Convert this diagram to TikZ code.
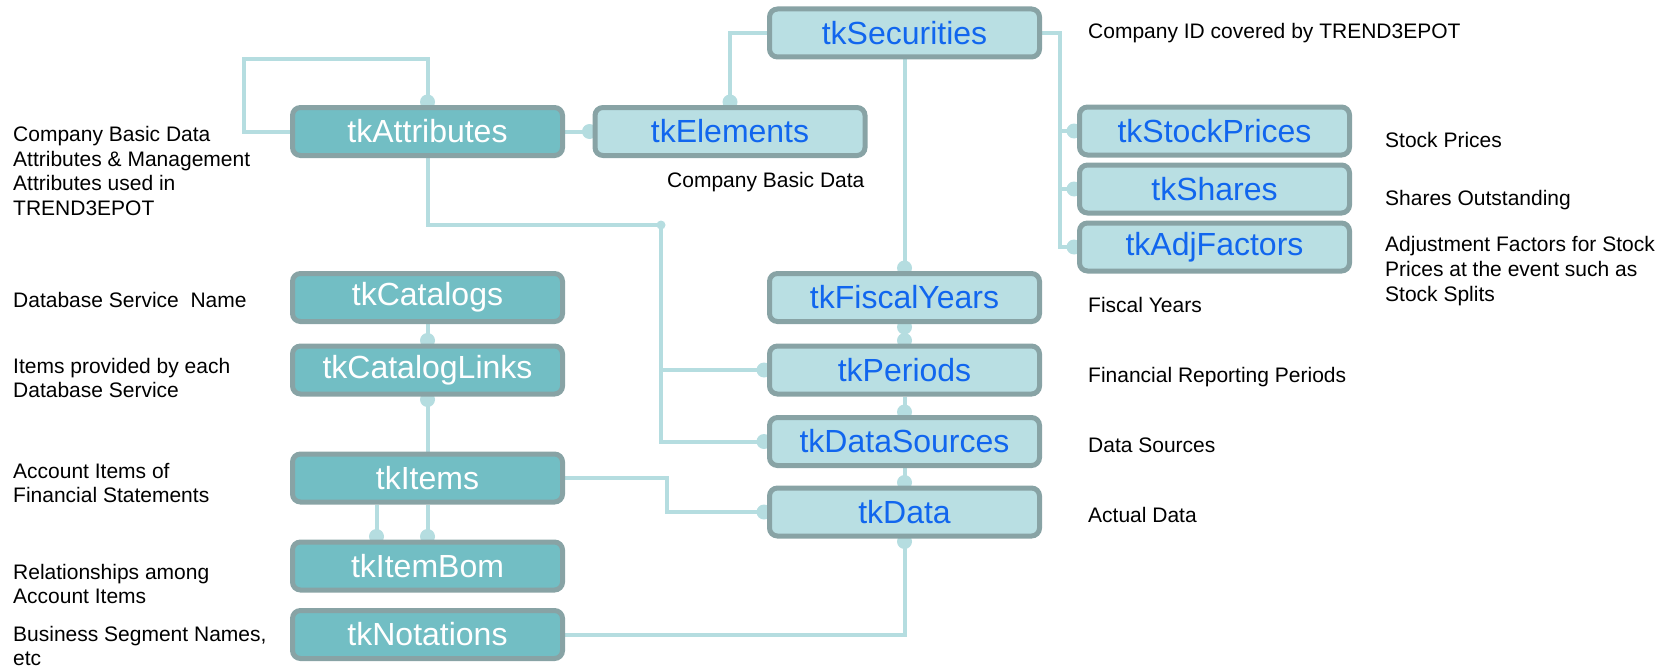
\documentclass[tikz,border=0pt]{standalone}
\usepackage{fontspec}
\setmainfont{Liberation Sans}
\usetikzlibrary{calc}
\definecolor{darkfill}{RGB}{114,190,196}
\definecolor{lightfill}{RGB}{185,223,227}
\definecolor{bordercol}{RGB}{136,163,165}
\definecolor{conncol}{RGB}{181,221,224}
\definecolor{bluetext}{RGB}{17,102,238}
\pgfdeclarelayer{bg}
\pgfsetlayers{bg,main}
\tikzset{
  tbl/.style={rectangle, rounded corners=8pt, draw=bordercol, line width=5pt,
    minimum width=270pt, minimum height=48pt, inner sep=0pt,
    font=\fontsize{32}{38}\selectfont},
  darktbl/.style={tbl, fill=darkfill, text=white},
  lighttbl/.style={tbl, fill=lightfill, text=bluetext},
  note/.style={anchor=west, inner sep=0pt, align=left, text=black,
    font=\fontsize{21}{24.6}\selectfont},
  conn/.style={draw=conncol, line width=4pt},
  blob/.style={fill=conncol}
}
\begin{document}
\begin{tikzpicture}[x=1pt,y=-1pt]
\useasboundingbox (0,0) rectangle (1678,669);
% tables
\node[lighttbl] (tkSecurities) at (904.5,33) {tkSecurities};
\node[darktbl] (tkAttributes) at (427.5,131.5) {tkAttributes};
\node[lighttbl] (tkElements) at (730,131.5) {tkElements};
\node[lighttbl] (tkStockPrices) at (1214.5,131) {tkStockPrices};
\node[lighttbl] (tkShares) at (1214.5,189) {tkShares};
\node[lighttbl] (tkAdjFactors) at (1214.5,247) {tkAdjFactors};
\node[darktbl] (tkCatalogs) at (427.5,297.5) {tkCatalogs};
\node[lighttbl] (tkFiscalYears) at (904.5,297.5) {tkFiscalYears};
\node[darktbl] (tkCatalogLinks) at (427.5,370) {tkCatalogLinks};
\node[lighttbl] (tkPeriods) at (904.5,370) {tkPeriods};
\node[lighttbl] (tkDataSources) at (904.5,441.5) {tkDataSources};
\node[darktbl] (tkItems) at (427.5,478) {tkItems};
\node[lighttbl] (tkData) at (904.5,512) {tkData};
\node[darktbl] (tkItemBom) at (427.5,566) {tkItemBom};
\node[darktbl] (tkNotations) at (427.5,634.5) {tkNotations};
% bend points
\coordinate (loopA) at (244,59);
\coordinate (secR) at (1060,247);
\coordinate (attrJ) at (661,225);
\coordinate (itemJ) at (666.5,478);
\begin{pgfonlayer}{bg}
\draw[conn] (tkAttributes.west) -| (loopA) -| (tkAttributes.north);
\draw[conn] (tkAttributes.east) -- (tkElements.west);
\draw[conn] (tkElements.north) |- (tkSecurities.west);
\draw[conn] (tkSecurities.east) -| (secR) -- (tkAdjFactors.west);
\draw[conn] (secR |- tkStockPrices.west) -- (tkStockPrices.west);
\draw[conn] (secR |- tkShares.west) -- (tkShares.west);
\draw[conn] (tkSecurities.south) -- (tkFiscalYears.north);
\draw[conn] (tkAttributes.south) |- (attrJ) -- (attrJ |- tkDataSources.west) -- (tkDataSources.west);
\draw[conn] (attrJ |- tkPeriods.west) -- (tkPeriods.west);
\fill[blob] (attrJ) circle[radius=4.5pt];
\draw[conn] (tkFiscalYears.south) -- (tkPeriods.north);
\draw[conn] (tkPeriods.south) -- (tkDataSources.north);
\draw[conn] (tkDataSources.south) -- (tkData.north);
\draw[conn] (tkCatalogs.south) -- (tkCatalogLinks.north);
\draw[conn] (tkCatalogLinks.south) -- (tkItems.north);
\draw[conn] (tkItems.east) -- (itemJ) |- (tkData.west);
\draw[conn] ([xshift=-51pt]tkItems.south) -- ([xshift=-51pt]tkItemBom.north);
\draw[conn] (tkItems.south) -- (tkItemBom.north);
\draw[conn] (tkNotations.east) -| (tkData.south);
% blobs
\fill[blob] ([yshift=3pt]tkAttributes.north) circle[radius=7.5pt];
\fill[blob] ([xshift=-3pt]tkElements.west) circle[radius=7.5pt];
\fill[blob] ([yshift=3pt]tkElements.north) circle[radius=7.5pt];
\fill[blob] ([xshift=-3pt]tkStockPrices.west) circle[radius=7.5pt];
\fill[blob] ([xshift=-3pt]tkShares.west) circle[radius=7.5pt];
\fill[blob] ([xshift=-3pt]tkAdjFactors.west) circle[radius=7.5pt];
\fill[blob] ([yshift=3pt]tkFiscalYears.north) circle[radius=7.5pt];
\fill[blob] ([yshift=-3pt]tkFiscalYears.south) circle[radius=7.5pt];
\fill[blob] ([yshift=3pt]tkPeriods.north) circle[radius=7.5pt];
\fill[blob] ([xshift=-3pt]tkPeriods.west) circle[radius=7.5pt];
\fill[blob] ([yshift=3pt]tkDataSources.north) circle[radius=7.5pt];
\fill[blob] ([xshift=-3pt]tkDataSources.west) circle[radius=7.5pt];
\fill[blob] ([yshift=3pt]tkData.north) circle[radius=7.5pt];
\fill[blob] ([xshift=-3pt]tkData.west) circle[radius=7.5pt];
\fill[blob] ([yshift=-3pt]tkData.south) circle[radius=7.5pt];
\fill[blob] ([yshift=3pt]tkCatalogLinks.north) circle[radius=7.5pt];
\fill[blob] ([yshift=-3pt]tkCatalogLinks.south) circle[radius=7.5pt];
\fill[blob] ([yshift=3pt,xshift=-51pt]tkItemBom.north) circle[radius=7.5pt];
\fill[blob] ([yshift=3pt]tkItemBom.north) circle[radius=7.5pt];
\end{pgfonlayer}
% notes
\node[note] (nSec) at (1088,33) {Company ID covered by TREND3EPOT};
\node[note] (nElem) at (667,182) {Company Basic Data};
\node[note] (nStock) at (1385,140) {Stock Prices};
\node[note] (nShares) at (1385,200) {Shares Outstanding};
\node[note] (nAdj) at (1385,271) {Adjustment Factors for Stock\\Prices at the event such as\\Stock Splits};
\node[note] (nFiscal) at (1088,305) {Fiscal Years};
\node[note] (nPeriods) at (1088,377) {Financial Reporting Periods};
\node[note] (nSources) at (1088,445) {Data Sources};
\node[note] (nData) at (1088,515) {Actual Data};
\node[note] (nAttr) at (13,171) {Company Basic Data\\Attributes \& Management\\Attributes used in\\TREND3EPOT};
\node[note] (nCat) at (13,300) {Database Service\ \ Name};
\node[note] (nCatL) at (13,378) {Items provided by each\\Database Service};
\node[note] (nItems) at (13,483) {Account Items of\\Financial Statements};
\node[note] (nBom) at (13,584) {Relationships among\\Account Items};
\node[note] (nNot) at (13,646) {Business Segment Names,\\etc};
\end{tikzpicture}
\end{document}
